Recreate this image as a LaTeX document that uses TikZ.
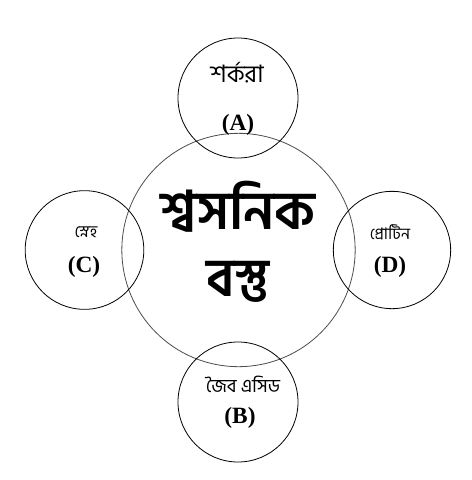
\documentclass[tikz,border=0pt]{standalone}
\usepackage{fontspec}
\setmainfont{Liberation Serif}
\newfontfamily\bnfont[Script=Bengali]{Hind Siliguri}
\usepackage{tikz}

\tikzset{
  ring/.style={draw,circle,line width=0.6pt,inner sep=0pt},
  letter/.style={font=\fontsize{17.5}{17.5}\selectfont\bfseries},
  bnlabel/.style={font=\bnfont\fontsize{#1}{#1}\selectfont}
}

\begin{document}
\begin{tikzpicture}[x=0.75pt,y=-0.75pt]
		\useasboundingbox (0,0) rectangle (472,480);
		% the big circle in the middle
		\node[ring,draw=black!70,minimum size=175pt] (mid) at (238.5,250) {};
		\node[font=\bnfont\fontsize{40}{40}\selectfont\bfseries] (midtop) at (238,207) {শ্বসনিক};
		\node[font=\bnfont\fontsize{40}{40}\selectfont\bfseries] (midbot) at (238,282) {বস্তু};
		% the four small circles
		\node[ring,minimum size=90pt] (top) at (238,98) {};
		\node[ring,minimum size=90pt] (bot) at (238,402) {};
		\node[ring,minimum size=89pt] (left) at (84.5,250) {};
		\node[ring,minimum size=88pt] (right) at (392,250) {};
		% labels
		\node[bnlabel=18] (toptext) at (237,73) {শর্করা};
		\node[letter] (topletter) at (238,125) {(A)};
		\node[bnlabel=14] (bottext) at (243,384) {জৈব এসিড};
		\node[letter] (botletter) at (240,418) {(B)};
		\node[bnlabel=12.5] (lefttext) at (86,232) {স্নেহ};
		\node[letter] (leftletter) at (84,267) {(C)};
		\node[bnlabel=12] (righttext) at (390,232) {প্রোটিন};
		\node[letter] (rightletter) at (390,267) {(D)};
	\end{tikzpicture}
\end{document}
